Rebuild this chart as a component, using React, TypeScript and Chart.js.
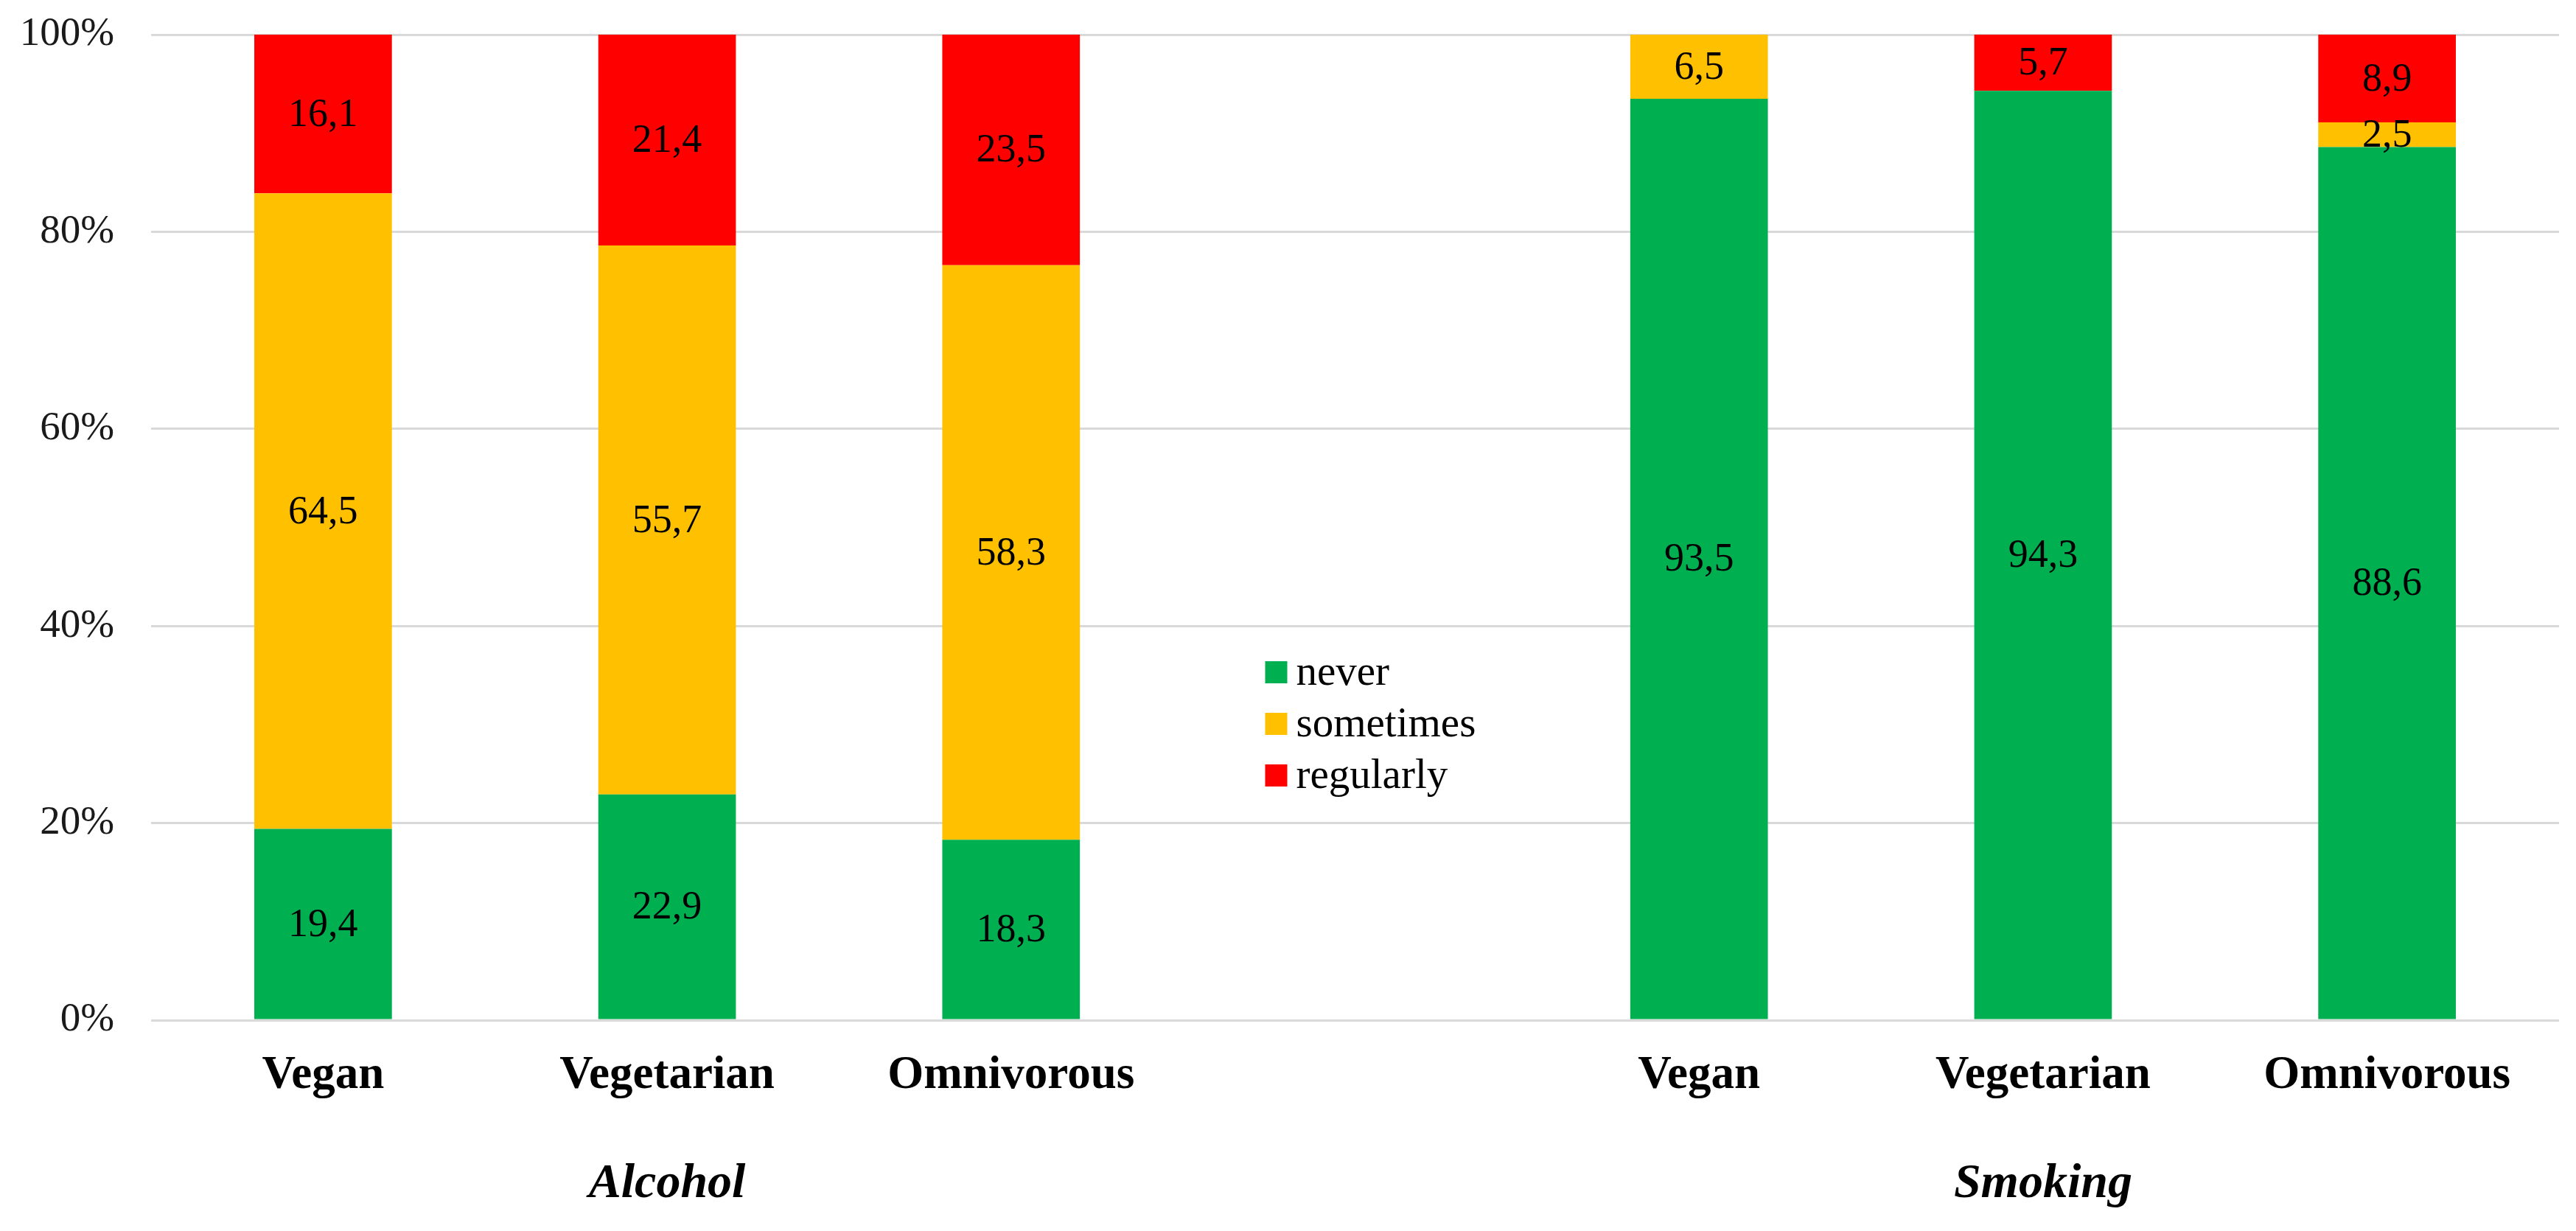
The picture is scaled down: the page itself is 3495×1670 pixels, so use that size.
import React, { useEffect, useRef } from "react";
import { Chart, registerables } from "chart.js";

Chart.register(...registerables);

const categories = ["Vegan", "Vegetarian", "Omnivorous", "", "Vegan", "Vegetarian", "Omnivorous"];
const neverValues = [19.4, 22.9, 18.3, null, 93.5, 94.3, 88.6];
const sometimesValues = [64.5, 55.7, 58.3, null, 6.5, 0, 2.5];
const regularlyValues = [16.1, 21.4, 23.5, null, 0, 5.7, 8.9];
const seriesNames = ["never", "sometimes", "regularly"];
const seriesColors = ["#00B050", "#FFC000", "#FF0000"];
const groupNames = ["Alcohol", "Smoking"];
const groupCenterIndex = [1, 5];
const legendSlotIndex = 3;

const FONT = "'Liberation Serif', 'Times New Roman', serif";

const fmt = (v: number) => v.toFixed(1).replace(".", ",");

const labelsPlugin = {
  id: "segmentLabels",
  afterDatasetsDraw(chart: any) {
    const ctx = chart.ctx;
    ctx.save();
    ctx.font = `54px ${FONT}`;
    ctx.fillStyle = "#000";
    ctx.textAlign = "center";
    ctx.textBaseline = "middle";
    chart.data.datasets.forEach((ds: any, di: number) => {
      const meta = chart.getDatasetMeta(di);
      meta.data.forEach((el: any, i: number) => {
        const v = ds.data[i];
        if (v == null || v <= 0) return;
        const y = (el.y + el.base) / 2;
        ctx.fillText(fmt(v), el.x, y + 2);
      });
    });
    ctx.restore();
  },
};

const extrasPlugin = {
  id: "extras",
  afterDraw(chart: any) {
    const ctx = chart.ctx;
    const xs = chart.scales.x;
    ctx.save();
    // group labels
    ctx.font = `italic bold 66px ${FONT}`;
    ctx.fillStyle = "#000";
    ctx.textAlign = "center";
    ctx.textBaseline = "middle";
    groupNames.forEach((g, i) => {
      ctx.fillText(g, xs.getPixelForValue(groupCenterIndex[i]), 1607);
    });
    // legend
    const cx = xs.getPixelForValue(legendSlotIndex);
    const left = cx - 122;
    const box = 30;
    ctx.font = `57px ${FONT}`;
    ctx.textAlign = "left";
    seriesNames.forEach((n, i) => {
      const y = 912 + i * 70;
      ctx.fillStyle = seriesColors[i];
      ctx.fillRect(left, y - box / 2, box, box);
      ctx.fillStyle = "#000";
      ctx.fillText(n, left + box + 12, y + 2);
    });
    ctx.restore();
  },
};

export default function App() {
  const ref = useRef<HTMLCanvasElement>(null);
  useEffect(() => {
    document.body.style.margin = "0";
    const canvas = ref.current!;
    const seriesData = [neverValues, sometimesValues, regularlyValues];
    const chart = new Chart(canvas, {
      type: "bar",
      data: {
        labels: categories,
        datasets: seriesNames.map((n, i) => ({
          label: n,
          data: seriesData[i],
          backgroundColor: seriesColors[i],
          borderWidth: 0,
          barPercentage: 0.4,
          categoryPercentage: 1,
        })),
      },
      options: {
        responsive: false,
        animation: false,
        devicePixelRatio: 1,
        layout: { padding: { top: 47, right: 23, bottom: 0, left: 0 } },
        plugins: { legend: { display: false }, tooltip: { enabled: false } },
        scales: {
          x: {
            stacked: true,
            grid: { display: false, drawTicks: false },
            border: { display: false },
            ticks: {
              font: { family: FONT, size: 63, weight: "bold" },
              color: "#000",
              padding: 38,
              maxRotation: 0,
              autoSkip: false,
            },
            afterFit(scale: any) {
              scale.height = 286;
            },
          },
          y: {
            stacked: true,
            min: 0,
            max: 100,
            grid: { color: "#D9D9D9", lineWidth: 3, drawTicks: false },
            border: { display: false },
            ticks: {
              stepSize: 20,
              font: { family: FONT, size: 55 },
              color: "#1a1a1a",
              padding: 50,
              callback: (v: any) => `${v}%`,
            },
            afterFit(scale: any) {
              scale.width = 205;
              scale.paddingTop = 0;
              scale.paddingBottom = 0;
            },
          },
        },
      },
      plugins: [labelsPlugin, extrasPlugin],
    });
    return () => chart.destroy();
  }, []);
  return <canvas ref={ref} width={3495} height={1670} style={{ display: "block" }} />;
}
